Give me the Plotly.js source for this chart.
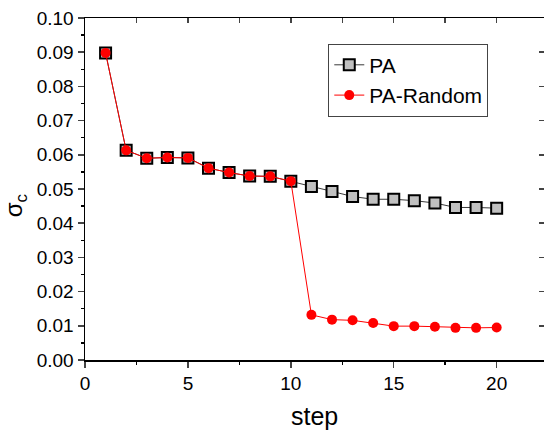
<!DOCTYPE html>
<html>
<head>
<meta charset="utf-8">
<script src="https://cdn.plot.ly/plotly-3.0.1.min.js"></script>
<style>html,body{margin:0;padding:0;background:#fff;}#chart{width:544px;height:434px;}</style>
</head>
<body>
<div id="chart"></div>
<script>
const steps = [1,2,3,4,5,6,7,8,9,10,11,12,13,14,15,16,17,18,19,20];
const paValues = [0.0898,0.0613,0.0590,0.0592,0.0591,0.0561,0.0548,0.0538,0.0537,0.0523,0.0507,0.0493,0.0478,0.0470,0.0470,0.0466,0.0459,0.0446,0.0446,0.0444];
const paRandomValues = [0.0898,0.0613,0.0590,0.0592,0.0591,0.0561,0.0548,0.0538,0.0537,0.0523,0.0132,0.0118,0.0116,0.0108,0.0099,0.0099,0.0097,0.0094,0.0094,0.0095];
const seriesNames = ["PA","PA-Random"];
const xTickVals = [0,5,10,15,20];
const yTickVals = [0,0.01,0.02,0.03,0.04,0.05,0.06,0.07,0.08,0.09,0.10];
const yTickText = ["0.00","0.01","0.02","0.03","0.04","0.05","0.06","0.07","0.08","0.09","0.10"];

const font = "Liberation Sans, Arial, sans-serif";

const traces = [
  {x: steps, y: paValues, name: seriesNames[0], type: "scatter", mode: "lines+markers",
   line: {color: "#3a3a3a", width: 1},
   marker: {symbol: "square", size: 11, color: "#c0c0c0", line: {color: "#000", width: 2}}},
  {x: steps, y: paRandomValues, name: seriesNames[1], type: "scatter", mode: "lines+markers",
   line: {color: "#ff0000", width: 1},
   marker: {symbol: "circle", size: 10, color: "#ff0000", line: {width: 0}}},
  {x: [null], y: [null], xaxis: "x2", yaxis: "y2", showlegend: false, hoverinfo: "skip"}
];

const xr = [0, 22.3];
const yr = [0, 0.10];

const layout = {
  width: 544, height: 434,
  margin: {l: 85, r: 0, t: 18, b: 74},
  paper_bgcolor: "#fff", plot_bgcolor: "#fff",
  font: {family: font, color: "#000", size: 18},
  showlegend: true,
  legend: {x: 0.53, y: 0.925, xanchor: "left", yanchor: "top",
           bgcolor: "#fff", bordercolor: "#444", borderwidth: 1,
           font: {family: font, size: 21, color: "#000"}, tracegroupgap: 0},
  xaxis: {range: xr, tickvals: xTickVals, ticks: "outside", ticklen: 6, tickwidth: 1.5,
          showline: true, linecolor: "#000", linewidth: 1.5, showgrid: false, zeroline: false,
          tickfont: {family: font, size: 19},
          minor: {dtick: 2.5, ticks: "outside", ticklen: 3, tickwidth: 1.5, tickcolor: "#000"}},
  yaxis: {range: yr, tickvals: yTickVals, ticktext: yTickText, ticks: "outside", ticklen: 6, tickwidth: 1.5,
          showline: true, linecolor: "#000", linewidth: 1.5, showgrid: false, zeroline: false,
          tickfont: {family: font, size: 19},
          minor: {dtick: 0.005, ticks: "outside", ticklen: 3, tickwidth: 1.5, tickcolor: "#000"}},
  xaxis2: {range: xr, overlaying: "x", side: "top", anchor: "y2", dtick: 2.5, tick0: 0,
           ticks: "inside", ticklen: 5, tickwidth: 1.5, showticklabels: false,
           showline: true, linecolor: "#000", linewidth: 1.5, showgrid: false, zeroline: false},
  yaxis2: {range: yr, overlaying: "y", side: "right", anchor: "x2", dtick: 0.01, tick0: 0,
           ticks: "inside", ticklen: 5, tickwidth: 1.5, showticklabels: false,
           showline: true, linecolor: "#000", linewidth: 1.5, showgrid: false, zeroline: false},
  annotations: [
    {text: "σ<sub>c</sub>", xref: "paper", yref: "paper", x: -0.152, y: 0.45,
     xanchor: "center", yanchor: "middle", textangle: -90, showarrow: false,
     font: {family: font, size: 24, color: "#000"}},
    {text: "step", xref: "paper", yref: "paper", x: 0.5, y: -0.165,
     xanchor: "center", yanchor: "middle", showarrow: false,
     font: {family: font, size: 25, color: "#000"}}
  ]
};

Plotly.newPlot("chart", traces, layout, {staticPlot: true, displayModeBar: false});
</script>
</body>
</html>
